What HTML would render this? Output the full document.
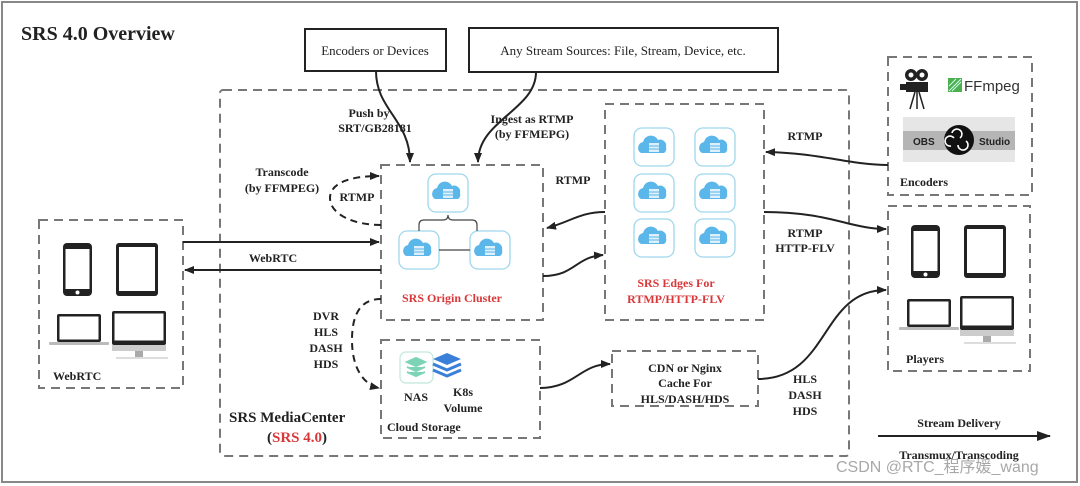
<!DOCTYPE html>
<html><head><meta charset="utf-8"><style>
html,body{margin:0;padding:0;background:#fff}
svg{display:block}
text{font-family:"Liberation Serif",serif;fill:#222}
.b{font-weight:bold}
</style></head><body>
<svg width="1080" height="486" viewBox="0 0 1080 486" xmlns="http://www.w3.org/2000/svg">
<defs>
<marker id="ah" markerWidth="10" markerHeight="8" refX="9" refY="4" orient="auto" markerUnits="userSpaceOnUse"><path d="M0,0 L10,4 L0,8 Z" fill="#222"/></marker>
<marker id="ah2" markerWidth="14" markerHeight="10" refX="13" refY="5" orient="auto" markerUnits="userSpaceOnUse"><path d="M0,0 L14,5 L0,10 Z" fill="#222"/></marker>
<g id="cl">
<rect x="-20" y="-19" width="40" height="38" rx="8" fill="#fff" stroke="#9fd8ee" stroke-width="1.3"/>
<path d="M-13,6 a6,6 0 0 1 2,-11 a8,8 0 0 1 15,-2 a6,6 0 0 1 8,7 a5,5 0 0 1 -2,6 z" fill="#5bb6ea"/>
<rect x="-5" y="-4" width="10" height="9" fill="#fff" opacity=".8"/>
<path d="M-5,-1 h10 M-5,2 h10" stroke="#5bb6ea" stroke-width="1"/>
</g>
<g id="phone"><rect x="0" y="0" width="29" height="53" rx="4" fill="#222"/><rect x="2.5" y="6" width="24" height="40" fill="#fff"/><circle cx="14.5" cy="49.5" r="2" fill="#fff"/></g>
<g id="tab"><rect x="0" y="0" width="42" height="53" rx="3" fill="#222"/><rect x="3" y="4" width="36" height="44" fill="#fff"/></g>
<g id="lap"><rect x="8" y="0" width="44" height="28" rx="2" fill="#222"/><rect x="10.5" y="2.5" width="39" height="23" fill="#fff"/><rect x="0" y="28" width="60" height="3" rx="1" fill="#bbb"/></g>
<g id="mon"><rect x="0" y="0" width="54" height="34" rx="2" fill="#222"/><rect x="2.5" y="2.5" width="49" height="27" fill="#fff"/><rect x="0" y="34" width="54" height="6" fill="#ccc"/><rect x="23" y="40" width="8" height="6" fill="#aaa"/><rect x="4" y="46" width="52" height="2" fill="#ddd"/></g>
</defs>
<rect x="2" y="2" width="1075" height="480" fill="#fff" stroke="#888" stroke-width="2"/>
<text x="21" y="40" font-size="20" class="b">SRS 4.0 Overview</text>

<rect x="305" y="29" width="141" height="42" fill="#fff" stroke="#222" stroke-width="2"/>
<text x="375" y="55" font-size="13" text-anchor="middle">Encoders or Devices</text>
<rect x="469" y="28" width="309" height="44" fill="#fff" stroke="#222" stroke-width="2"/>
<text x="623" y="55" font-size="13" text-anchor="middle">Any Stream Sources: File, Stream, Device, etc.</text>

<g fill="none" stroke="#777" stroke-width="2" stroke-dasharray="9,6">
<rect x="220" y="90" width="629" height="366" rx="3"/>
<rect x="381" y="165" width="162" height="155"/>
<rect x="605" y="104" width="159" height="216"/>
<rect x="381" y="340" width="159" height="98"/>
<rect x="612" y="351" width="146" height="55"/>
<rect x="39" y="220" width="144" height="168"/>
<rect x="888" y="57" width="144" height="138"/>
<rect x="888" y="206" width="142" height="165"/>
</g>

<!-- origin cluster -->
<use href="#cl" x="448" y="193"/>
<use href="#cl" x="419" y="250"/>
<use href="#cl" x="490" y="250"/>
<path d="M419,231 v-6 q0,-5 5,-5 h19 q5,0 5,-5 q0,5 5,5 h19 q5,0 5,5 v6" fill="none" stroke="#444" stroke-width="1.2"/>
<line x1="439" y1="250" x2="470" y2="250" stroke="#444" stroke-width="1.2"/>
<text x="452" y="302" font-size="12" class="b" text-anchor="middle" style="fill:#d9383a">SRS Origin Cluster</text>

<!-- edges -->
<use href="#cl" x="654" y="147"/><use href="#cl" x="715" y="147"/>
<use href="#cl" x="654" y="193"/><use href="#cl" x="715" y="193"/>
<use href="#cl" x="654" y="238"/><use href="#cl" x="715" y="238"/>
<text x="676" y="287" font-size="12" class="b" text-anchor="middle" style="fill:#d9383a">SRS Edges For</text>
<text x="676" y="303" font-size="12" class="b" text-anchor="middle" style="fill:#d9383a">RTMP/HTTP-FLV</text>

<!-- cloud storage -->
<rect x="400" y="352" width="33" height="31" rx="6" fill="#fff" stroke="#bfe8dc" stroke-width="1.2"/>
<path d="M407,362 l9,-4 l9,4 l-9,4 z M407,367 l9,4 l9,-4 M407,372 l9,4 l9,-4" fill="#7dd3b6" stroke="#7dd3b6" stroke-width="2"/>
<path d="M447,353 l14,6 l-14,6 l-14,-6 z" fill="#3a7fd8"/>
<path d="M433,364 l14,6 l14,-6 M433,370 l14,6 l14,-6" fill="none" stroke="#3a7fd8" stroke-width="3"/>
<text x="416" y="401" font-size="12" class="b" text-anchor="middle">NAS</text>
<text x="463" y="396" font-size="12" class="b" text-anchor="middle">K8s</text>
<text x="463" y="412" font-size="12" class="b" text-anchor="middle">Volume</text>
<text x="387" y="431" font-size="12" class="b">Cloud Storage</text>

<text x="685" y="372" font-size="12" class="b" text-anchor="middle">CDN or Nginx</text>
<text x="685" y="387" font-size="12" class="b" text-anchor="middle">Cache For</text>
<text x="685" y="403" font-size="12" class="b" text-anchor="middle">HLS/DASH/HDS</text>

<text x="229" y="422" font-size="15" class="b">SRS MediaCenter</text>
<text x="297" y="442" font-size="15" class="b" text-anchor="middle">(<tspan style="fill:#d9383a">SRS 4.0</tspan>)</text>

<!-- webrtc devices -->
<use href="#phone" x="63" y="243"/><use href="#tab" x="116" y="243"/>
<use href="#lap" x="49" y="314"/><use href="#mon" x="112" y="311"/>
<text x="53" y="380" font-size="12" class="b">WebRTC</text>

<!-- players devices -->
<use href="#phone" x="911" y="225"/><use href="#tab" x="964" y="225"/>
<use href="#lap" x="899" y="299"/><use href="#mon" x="960" y="296"/>
<text x="906" y="363" font-size="12" class="b">Players</text>

<!-- encoders -->
<g fill="#222">
<circle cx="911" cy="75" r="6"/><circle cx="922" cy="75" r="6"/>
<circle cx="911" cy="75" r="2.5" fill="#fff"/><circle cx="922" cy="75" r="2.5" fill="#fff"/>
<rect x="906" y="82" width="22" height="10"/><rect x="900" y="84" width="6" height="6"/>
<path d="M915,92 l-5,17 M917,92 v17 M919,92 l5,17" stroke="#222" stroke-width="1.5"/>
</g>
<rect x="948" y="78" width="14" height="14" fill="#4caf50"/>
<path d="M949,91 l12,-12 M952,91 l9,-9 M949,86 l7,-7" stroke="#cfe" stroke-width="1"/>
<text x="964" y="91" font-size="15" font-family="Liberation Sans,sans-serif" style="font-family:'Liberation Sans',sans-serif;fill:#333">FFmpeg</text>
<rect x="903" y="117" width="112" height="45" fill="#e6e6e6"/>
<rect x="903" y="131" width="112" height="19" fill="#b5b5b5"/>
<circle cx="959" cy="140" r="15" fill="#111"/>
<path d="M952,133 a5,5 0 1 1 8,5 M966,141 a5,5 0 1 1 -8,4 M951,146 a5,5 0 1 1 3,-8" fill="none" stroke="#fff" stroke-width="1.6"/>
<text x="913" y="145" font-size="10" style="font-family:'Liberation Sans',sans-serif;font-weight:bold;fill:#222">OBS</text>
<text x="979" y="145" font-size="10" style="font-family:'Liberation Sans',sans-serif;font-weight:bold;fill:#222">Studio</text>
<text x="900" y="186" font-size="12" class="b">Encoders</text>

<!-- connectors -->
<g fill="none" stroke="#222" stroke-width="2">
<path d="M376,71 C376,110 410,120 410,162" marker-end="url(#ah)"/>
<path d="M536,72 C536,110 478,120 478,162" marker-end="url(#ah)"/>
<path d="M183,242 L379,242" marker-end="url(#ah)"/>
<path d="M381,270 L185,270" marker-end="url(#ah)"/>
<path d="M605,212 C580,212 570,222 547,228" marker-end="url(#ah)"/>
<path d="M543,276 C575,276 575,257 603,255" marker-end="url(#ah)"/>
<path d="M888,165 C850,165 820,153 766,152" marker-end="url(#ah)"/>
<path d="M764,212 C830,212 850,229 886,229" marker-end="url(#ah)"/>
<path d="M540,388 C575,388 580,364 610,364" marker-end="url(#ah)"/>
<path d="M758,379 C830,379 820,290 886,290" marker-end="url(#ah)"/>
<path d="M878,436 L1050,436" marker-end="url(#ah2)"/>
<g stroke-dasharray="7,5">
<path d="M381,225 C355,225 330,215 330,198 C330,183 350,176 379,176" marker-end="url(#ah)"/>
<path d="M381,299 C360,299 352,315 352,340 C352,370 365,385 379,388" marker-end="url(#ah)"/>
</g>
</g>

<text x="369" y="117" font-size="12" class="b" text-anchor="middle">Push by</text>
<text x="375" y="132" font-size="12" class="b" text-anchor="middle">SRT/GB28181</text>
<text x="532" y="123" font-size="12" class="b" text-anchor="middle">Ingest as RTMP</text>
<text x="532" y="138" font-size="12" class="b" text-anchor="middle">(by FFMEPG)</text>
<text x="282" y="176" font-size="12" class="b" text-anchor="middle">Transcode</text>
<text x="282" y="192" font-size="12" class="b" text-anchor="middle">(by FFMPEG)</text>
<text x="357" y="201" font-size="12" class="b" text-anchor="middle">RTMP</text>
<text x="573" y="184" font-size="12" class="b" text-anchor="middle">RTMP</text>
<text x="273" y="262" font-size="12" class="b" text-anchor="middle">WebRTC</text>
<text x="805" y="140" font-size="12" class="b" text-anchor="middle">RTMP</text>
<text x="805" y="237" font-size="12" class="b" text-anchor="middle">RTMP</text>
<text x="805" y="252" font-size="12" class="b" text-anchor="middle">HTTP-FLV</text>
<text x="326" y="320" font-size="12" class="b" text-anchor="middle">DVR</text>
<text x="326" y="336" font-size="12" class="b" text-anchor="middle">HLS</text>
<text x="326" y="352" font-size="12" class="b" text-anchor="middle">DASH</text>
<text x="326" y="368" font-size="12" class="b" text-anchor="middle">HDS</text>
<text x="805" y="383" font-size="12" class="b" text-anchor="middle">HLS</text>
<text x="805" y="399" font-size="12" class="b" text-anchor="middle">DASH</text>
<text x="805" y="415" font-size="12" class="b" text-anchor="middle">HDS</text>
<text x="959" y="427" font-size="12" class="b" text-anchor="middle">Stream Delivery</text>
<text x="959" y="459" font-size="12" class="b" text-anchor="middle">Transmux/Transcoding</text>
<text x="836" y="472" font-size="16" style="font-family:'Liberation Sans','Noto Sans CJK SC',sans-serif;fill:#999;opacity:.85">CSDN @RTC_程序媛_wang</text>
</svg>
</body></html>
